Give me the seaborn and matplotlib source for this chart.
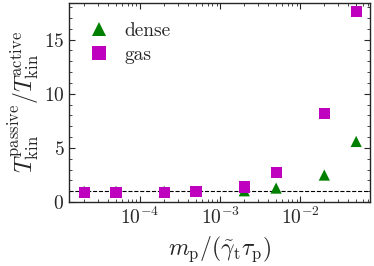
import numpy as np
import pandas as pd
import matplotlib
matplotlib.use("Agg")
import matplotlib.pyplot as plt
import seaborn as sns

sns.set_style("ticks")
plt.rcParams['font.family'] = ['cmr10', 'DejaVu Serif']
plt.rcParams['mathtext.fontset'] = 'cm'
plt.rcParams['axes.unicode_minus'] = False
plt.rcParams['axes.formatter.use_mathtext'] = True

x_vals = [2e-5, 5e-5, 2e-4, 5e-4, 2e-3, 5e-3, 2e-2, 5e-2]
dense = [1.0, 1.0, 1.0, 1.0, 1.05, 1.3, 2.5, 5.6]
gas = [0.9, 0.9, 0.9, 0.95, 1.4, 2.7, 8.15, 17.55]
labels = ["dense", "gas"]

df = pd.DataFrame({
    "x": x_vals * 2,
    "y": dense + gas,
    "phase": [labels[0]] * len(x_vals) + [labels[1]] * len(x_vals),
})

fig, ax = plt.subplots(figsize=(3.74, 2.66), dpi=100)
sns.scatterplot(data=df, x="x", y="y", hue="phase", style="phase",
                markers={"dense": "^", "gas": "s"},
                palette={"dense": "#008000", "gas": "#bf00bf"},
                s=65, linewidth=0, ax=ax, zorder=3)
ax.axhline(1.0, color="black", ls="--", lw=0.8, zorder=1)
ax.set_xscale("log")
ax.set_xlim(1.3e-5, 7.5e-2)
ax.set_ylim(0, 18.4)
ax.set_yticks([0, 5, 10, 15])
ax.yaxis.set_minor_locator(matplotlib.ticker.MultipleLocator(1))
ax.tick_params(which="both", direction="in", top=True, right=True, labelsize=14)
ax.tick_params(which="major", length=4)
ax.tick_params(which="minor", length=2)
for sp in ax.spines.values():
    sp.set_linewidth(1.0)
ax.set_xlabel(r"$m_{\rm p}/(\tilde{\gamma}_{\rm t}\tau_{\rm p})$", fontsize=17)
ax.set_ylabel(r"$T_{\rm kin}^{\rm passive}/T_{\rm kin}^{\rm active}$", fontsize=17, labelpad=2)
leg = ax.legend(loc="upper left", bbox_to_anchor=(-0.03, 1.0), frameon=False,
                fontsize=14, handletextpad=0.3, borderaxespad=0.6, title=None,
                markerscale=1.3, labelspacing=0.3)
fig.subplots_adjust(left=0.185, right=0.99, top=0.99, bottom=0.24)
fig.savefig("out.png", dpi=100)
